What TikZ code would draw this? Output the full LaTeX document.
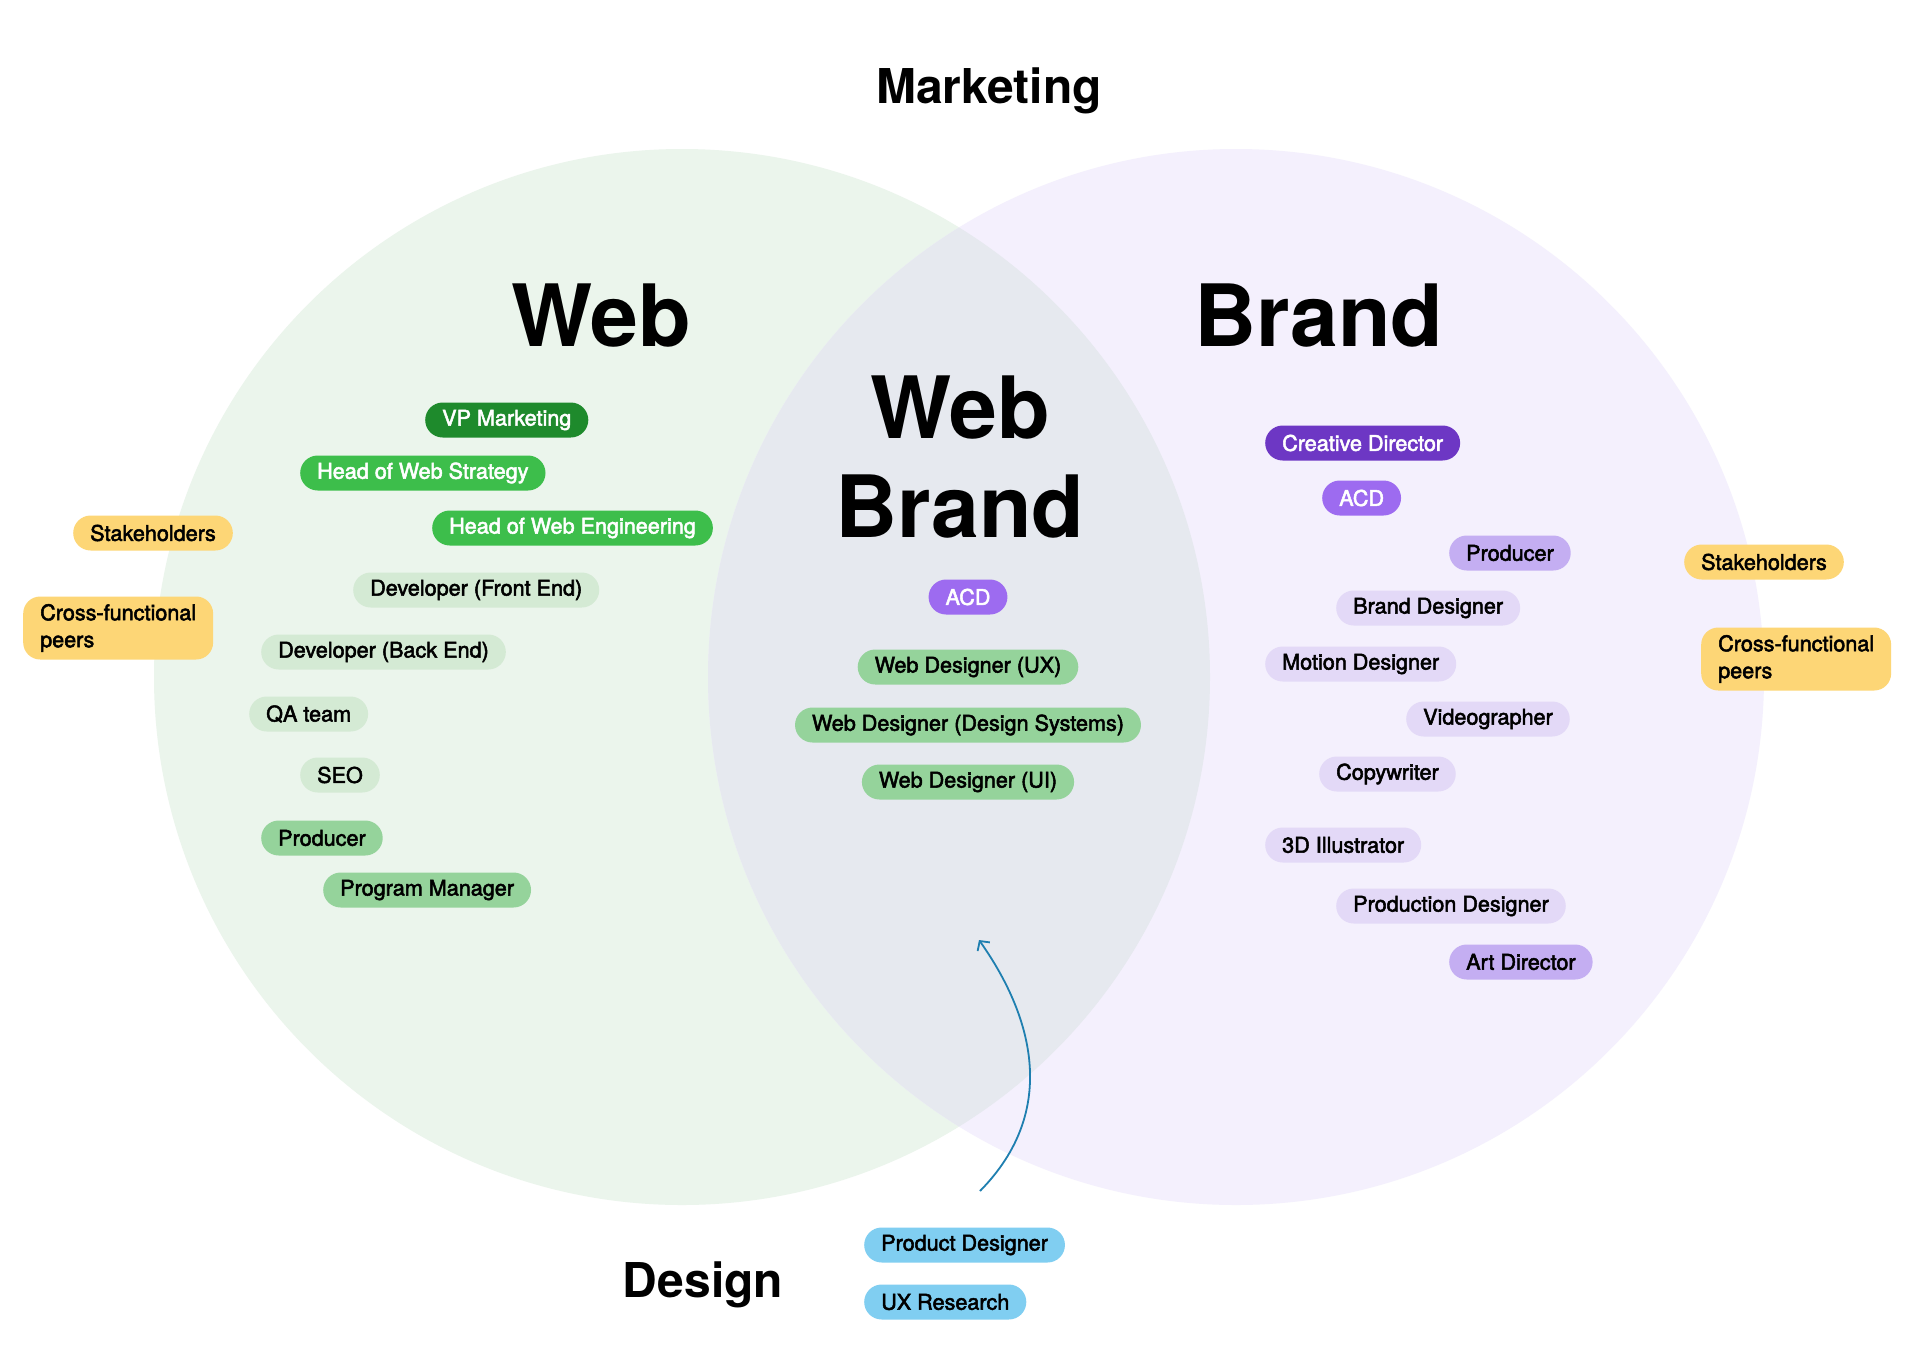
\documentclass[tikz,border=0pt]{standalone}
\usepackage{fontspec}
\setmainfont{TeX Gyre Heros}
\newfontfamily\mediumfont{TeX Gyre Heros}[FakeBold=2.4]
\usetikzlibrary{arrows.meta}

\definecolor{webbg}{HTML}{EBF5EC}
\definecolor{brandbg}{HTML}{F4F0FD}
\definecolor{mixbg}{HTML}{E6E9EF}
\definecolor{greendark}{HTML}{1E8A2C}
\definecolor{greenmid}{HTML}{3DBE4B}
\definecolor{greensoft}{HTML}{95D39B}
\definecolor{greenpale}{HTML}{D4EAD4}
\definecolor{purpledark}{HTML}{6D37C4}
\definecolor{purplemid}{HTML}{9D6BF0}
\definecolor{purplesoft}{HTML}{C4AEF2}
\definecolor{purplepale}{HTML}{E3D9F7}
\definecolor{peeryellow}{HTML}{FDD676}
\definecolor{designblue}{HTML}{80CEF1}
\definecolor{arrowblue}{HTML}{1F7FB0}

\newcommand\pilltext{\mediumfont\fontsize{21.6}{27}\selectfont}
\newcommand\headtext{\fontsize{86}{99}\selectfont\bfseries}
\newcommand\areatext{\fontsize{48}{56}\selectfont\bfseries}

\begin{document}
\begin{tikzpicture}[x=1pt, y=-1pt,
    pill/.style={rounded corners=17.5pt, minimum height=35pt, inner xsep=17pt,
        inner ysep=0pt, font=\pilltext, anchor=west},
    lead/.style={pill, text=white},
    peers/.style={pill, fill=peeryellow, align=left, minimum height=63pt,
        rounded corners=17pt},
    heading/.style={font=\headtext, anchor=base, inner sep=0pt},
    area/.style={font=\areatext, anchor=base, inner sep=0pt}]
    \useasboundingbox (0,0) rectangle (1920,1366);
    \fill[white] (0,0) rectangle (1920,1366);

    % Circles and their overlap
    \fill[webbg] (682,677) circle[radius=528pt];
    \fill[brandbg] (1236,677) circle[radius=528pt];
    \begin{scope}
        \clip (682,677) circle[radius=528pt];
        \fill[mixbg] (1236,677) circle[radius=528pt];
    \end{scope}

    % Titles
    \node[area] (marketing) at (989,103) {Marketing};
    \node[area] (design) at (703,1297) {Design};
    \node[heading] (web) at (601,346) {Web};
    \node[heading] (brand) at (1319,346) {Brand};
    \node[font=\headtext, align=center, inner sep=0pt] (webbrand) at (960,457) {Web\\Brand};

    % Web side
    \node[lead, fill=greendark] (vp) at (425,420) {VP Marketing};
    \node[lead, fill=greenmid] (strategy) at (300,473) {Head of Web Strategy};
    \node[lead, fill=greenmid] (engineering) at (432,528) {Head of Web Engineering};
    \node[pill, fill=greenpale] (front) at (353,590) {Developer (Front End)};
    \node[pill, fill=greenpale] (back) at (261,652) {Developer (Back End)};
    \node[pill, fill=greenpale] (qa) at (249,714) {QA team};
    \node[pill, fill=greenpale] (seo) at (300,775) {SEO};
    \node[pill, fill=greensoft] (webproducer) at (261,838) {Producer};
    \node[pill, fill=greensoft] (program) at (323,890) {Program Manager};
    \node[pill, fill=peeryellow] (webstake) at (73,533) {Stakeholders};
    \node[peers] (webpeers) at (23,628) {Cross-functional\\peers};

    % Shared roles
    \node[lead, fill=purplemid, anchor=center] (midacd) at (968,597) {ACD};
    \node[pill, fill=greensoft, anchor=center] (ux) at (968,667) {Web Designer (UX)};
    \node[pill, fill=greensoft, anchor=center] (systems) at (968,725) {Web Designer (Design Systems)};
    \node[pill, fill=greensoft, anchor=center] (ui) at (968,782) {Web Designer (UI)};

    % Brand side
    \node[lead, fill=purpledark] (creative) at (1265,443) {Creative Director};
    \node[lead, fill=purplemid] (brandacd) at (1322,498) {ACD};
    \node[pill, fill=purplesoft] (brandproducer) at (1449,553) {Producer};
    \node[pill, fill=purplepale] (branddesigner) at (1336,608) {Brand Designer};
    \node[pill, fill=purplepale] (motion) at (1265,664) {Motion Designer};
    \node[pill, fill=purplepale] (video) at (1406,719) {Videographer};
    \node[pill, fill=purplepale] (copy) at (1319,774) {Copywriter};
    \node[pill, fill=purplepale] (illustrator) at (1265,845) {3D Illustrator};
    \node[pill, fill=purplepale] (production) at (1336,906) {Production Designer};
    \node[pill, fill=purplesoft] (art) at (1449,962) {Art Director};
    \node[pill, fill=peeryellow] (brandstake) at (1684,562) {Stakeholders};
    \node[peers] (brandpeers) at (1701,659) {Cross-functional\\peers};

    % Design roles
    \node[pill, fill=designblue] (product) at (864,1245) {Product Designer};
    \node[pill, fill=designblue] (research) at (864,1302) {UX Research};

    % Design reaching into the overlap
    \coordinate (arrowfrom) at (980,1191);
    \coordinate (arrowto) at (979,940);
    \draw[arrowblue, line width=1.8pt, -{Straight Barb[length=7pt, width=15pt]}]
        (arrowfrom) .. controls (1060,1110) and (1032,1015) .. (arrowto);
\end{tikzpicture}
\end{document}
